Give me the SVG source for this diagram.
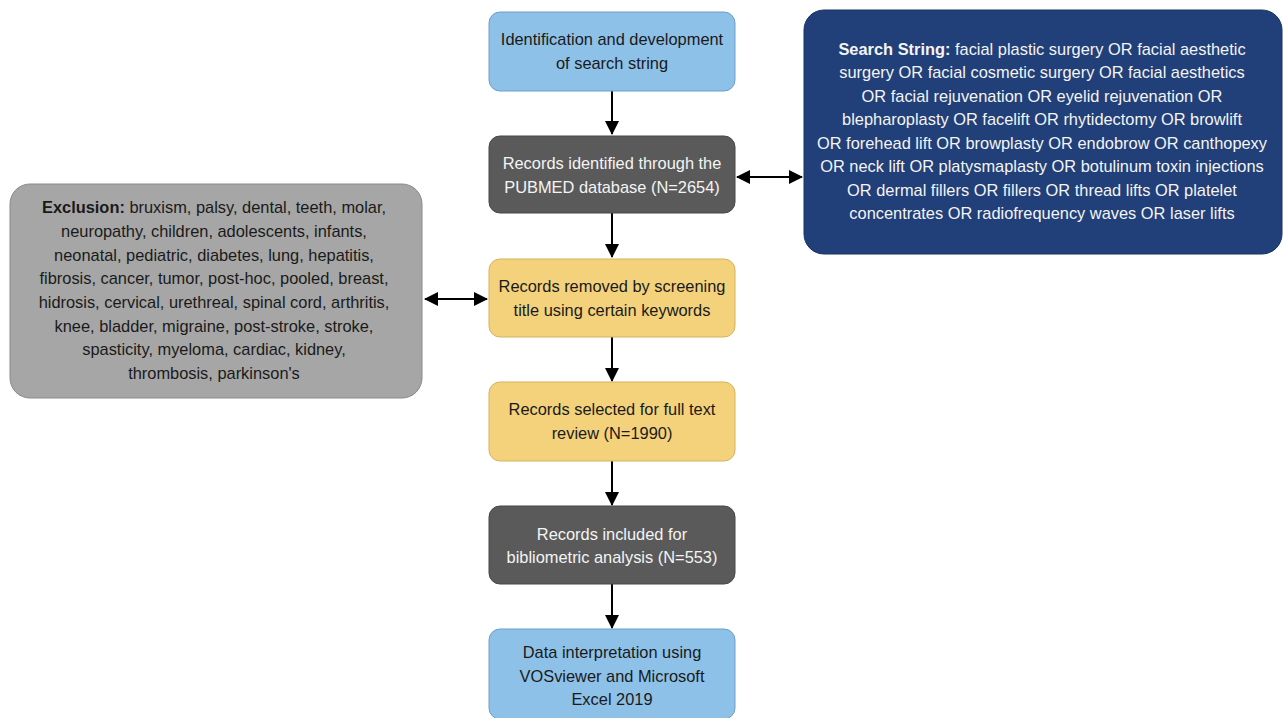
<svg xmlns="http://www.w3.org/2000/svg" width="1283" height="718" viewBox="0 0 1283 718">
<style>
text{font-family:"Liberation Sans",Arial,sans-serif;font-size:16.4px;text-anchor:middle}
.blue{fill:#8ec1e8;stroke:#6c9fca;stroke-width:1}
.dark{fill:#5a5a5a;stroke:#474747;stroke-width:1}
.yel{fill:#f4d27b;stroke:#d5b35d;stroke-width:1}
.navy{fill:#213f78;stroke:#1a3262;stroke-width:1}
.gray{fill:#a6a6a6;stroke:#8a8a8a;stroke-width:1}
.tb{fill:#1a1a1a}
.tw{fill:#f4f4f4}
.conn{stroke:#000;stroke-width:2;fill:none}
</style>
<defs>
<marker id="ah" viewBox="0 0 14 14" refX="13" refY="7" markerWidth="14" markerHeight="14" markerUnits="userSpaceOnUse" orient="auto-start-reverse">
<path d="M0,0 L14,7 L0,14 Z" fill="#000"/>
</marker>
</defs>
<g id="connectors">
<line class="conn" x1="612" y1="91" x2="612" y2="134" marker-end="url(#ah)"/>
<line class="conn" x1="737" y1="177" x2="802" y2="177" marker-start="url(#ah)" marker-end="url(#ah)"/>
<line class="conn" x1="612" y1="213" x2="612" y2="257" marker-end="url(#ah)"/>
<line class="conn" x1="425" y1="299" x2="487" y2="299" marker-start="url(#ah)" marker-end="url(#ah)"/>
<line class="conn" x1="612" y1="337" x2="612" y2="381" marker-end="url(#ah)"/>
<line class="conn" x1="612" y1="461" x2="612" y2="505" marker-end="url(#ah)"/>
<line class="conn" x1="612" y1="584" x2="612" y2="628" marker-end="url(#ah)"/>
</g>
<g id="n1">
<rect class="blue" x="489" y="12" width="246" height="79" rx="11"/>
<text class="tb" x="612" y="45">Identification and development</text>
<text class="tb" x="612" y="69">of search string</text>
</g>
<g id="n2">
<rect class="dark" x="489" y="136" width="246" height="77" rx="11"/>
<text class="tw" x="612" y="169">Records identified through the</text>
<text class="tw" x="612" y="193">PUBMED database (N=2654)</text>
</g>
<g id="search">
<rect class="navy" x="804" y="10" width="478" height="244" rx="20"/>
<text class="tw" x="1042" y="55"><tspan font-weight="bold">Search String:</tspan> facial plastic surgery OR facial aesthetic</text>
<text class="tw" x="1042" y="78">surgery OR facial cosmetic surgery OR facial aesthetics</text>
<text class="tw" x="1042" y="102">OR facial rejuvenation OR eyelid rejuvenation OR</text>
<text class="tw" x="1042" y="125">blepharoplasty OR facelift OR rhytidectomy OR browlift</text>
<text class="tw" x="1042" y="149">OR forehead lift OR browplasty OR endobrow OR canthopexy</text>
<text class="tw" x="1042" y="172">OR neck lift OR platysmaplasty OR botulinum toxin injections</text>
<text class="tw" x="1042" y="196">OR dermal fillers OR fillers OR thread lifts OR platelet</text>
<text class="tw" x="1042" y="219">concentrates OR radiofrequency waves OR laser lifts</text>
</g>
<g id="exclusion">
<rect class="gray" x="10" y="184" width="412" height="214" rx="20"/>
<text class="tb" x="214" y="213"><tspan font-weight="bold">Exclusion:</tspan> bruxism, palsy, dental, teeth, molar,</text>
<text class="tb" x="214" y="237">neuropathy, children, adolescents, infants,</text>
<text class="tb" x="214" y="261">neonatal, pediatric, diabetes, lung, hepatitis,</text>
<text class="tb" x="214" y="284">fibrosis, cancer, tumor, post-hoc, pooled, breast,</text>
<text class="tb" x="214" y="308">hidrosis, cervical, urethreal, spinal cord, arthritis,</text>
<text class="tb" x="214" y="332">knee, bladder, migraine, post-stroke, stroke,</text>
<text class="tb" x="214" y="355">spasticity, myeloma, cardiac, kidney,</text>
<text class="tb" x="214" y="379">thrombosis, parkinson's</text>
</g>
<g id="n3">
<rect class="yel" x="489" y="259" width="246" height="78" rx="11"/>
<text class="tb" x="612" y="292">Records removed by screening</text>
<text class="tb" x="612" y="316">title using certain keywords</text>
</g>
<g id="n4">
<rect class="yel" x="489" y="382" width="246" height="79" rx="11"/>
<text class="tb" x="612" y="415">Records selected for full text</text>
<text class="tb" x="612" y="439">review (N=1990)</text>
</g>
<g id="n5">
<rect class="dark" x="489" y="506" width="246" height="78" rx="11"/>
<text class="tw" x="612" y="540">Records included for</text>
<text class="tw" x="612" y="563">bibliometric analysis (N=553)</text>
</g>
<g id="n6">
<rect class="blue" x="489" y="629" width="246" height="90" rx="11"/>
<text class="tb" x="612" y="658">Data interpretation using</text>
<text class="tb" x="612" y="682">VOSviewer and Microsoft</text>
<text class="tb" x="612" y="705">Excel 2019</text>
</g>
</svg>
